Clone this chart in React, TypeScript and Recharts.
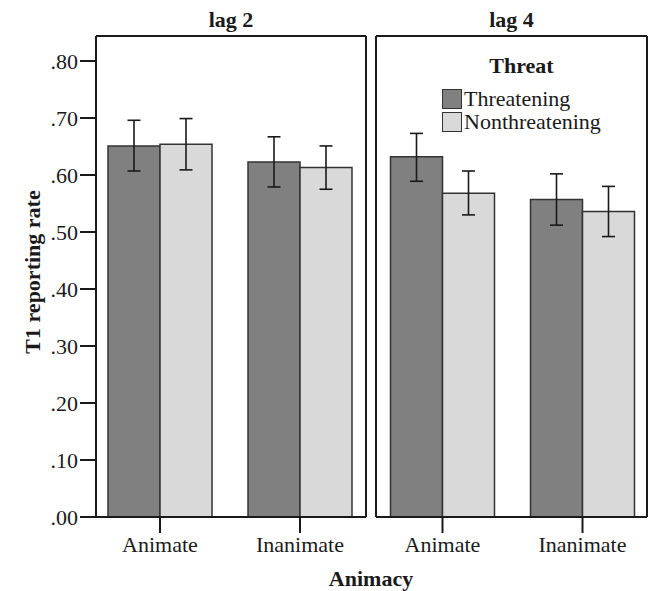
import React from 'react';
import { BarChart, Bar, XAxis, YAxis, ErrorBar, Legend } from 'recharts';

// ---- data ----
const categories = ['Animate', 'Inanimate'];
const panelTitles = ['lag 2', 'lag 4'];
const seriesNames = ['Threatening', 'Nonthreatening'];
const yTicks = [0, 0.1, 0.2, 0.3, 0.4, 0.5, 0.6, 0.7, 0.8];

const lag2Threatening = [0.651, 0.623];
const lag2ThreateningCI = [[0.607, 0.696], [0.579, 0.667]];
const lag2Nonthreatening = [0.654, 0.613];
const lag2NonthreateningCI = [[0.609, 0.699], [0.575, 0.651]];

const lag4Threatening = [0.632, 0.557];
const lag4ThreateningCI = [[0.589, 0.673], [0.512, 0.602]];
const lag4Nonthreatening = [0.568, 0.536];
const lag4NonthreateningCI = [[0.53, 0.607], [0.492, 0.58]];

function buildRows(t: number[], tCI: number[][], n: number[], nCI: number[][]) {
  return categories.map((c, i) => ({
    category: c,
    threat: t[i],
    threatErr: [t[i] - tCI[i][0], tCI[i][1] - t[i]],
    nonthreat: n[i],
    nonthreatErr: [n[i] - nCI[i][0], nCI[i][1] - n[i]],
  }));
}

const lag2Rows = buildRows(lag2Threatening, lag2ThreateningCI, lag2Nonthreatening, lag2NonthreateningCI);
const lag4Rows = buildRows(lag4Threatening, lag4ThreateningCI, lag4Nonthreatening, lag4NonthreateningCI);

// ---- style ----
const FONT = '"Liberation Serif", "Times New Roman", Times, serif';
const INK = '#1a1a1a';
const DARK = '#808080';
const LIGHT = '#d9d9d9';
const BAR_STROKE = '#333';
const axisLineStyle = { stroke: INK, strokeWidth: 2 };
const fmt = (v: number) => v.toFixed(2).replace(/^0/, '');

function LegendContent(props: any) {
  const payload = (props.payload || [])
    .filter((p: any) => seriesNames.indexOf(p.value) >= 0)
    .sort((a: any, b: any) => seriesNames.indexOf(a.value) - seriesNames.indexOf(b.value));
  return (
    <div style={{ fontFamily: FONT, color: INK, display: 'inline-block' }}>
      <div style={{ fontSize: 22, fontWeight: 'bold', lineHeight: '24px', textAlign: 'center', marginBottom: 9 }}>Threat</div>
      {payload.map((p: any) => (
        <div key={p.value} style={{ display: 'flex', alignItems: 'center', height: 23.5, fontSize: 22, lineHeight: '24px' }}>
          <span
            style={{
              display: 'inline-block',
              width: 20,
              height: 20,
              boxSizing: 'border-box',
              background: p.color,
              border: `1.5px solid ${BAR_STROKE}`,
              marginRight: 2,
            }}
          />
          <span>{p.value}</span>
        </div>
      ))}
    </div>
  );
}

type PanelProps = {
  data: any[];
  showY: boolean;
  left: number;
  width: number;
  marginRight: number;
  padLeft: number;
  padRight: number;
  legend: boolean;
};

function Panel({ data, showY, left, width, marginRight, padLeft, padRight, legend }: PanelProps) {
  return (
    <div style={{ position: 'absolute', left, top: 0 }}>
      <BarChart
        width={width}
        height={591}
        data={data}
        margin={{ top: 35, right: marginRight, bottom: 0, left: 0 }}
        barCategoryGap={18}
        barGap={0}
      >
        <XAxis
          dataKey="category"
          height={74}
          tickSize={16}
          tickMargin={3}
          interval={0}
          padding={{ left: padLeft, right: padRight }}
          axisLine={axisLineStyle}
          tickLine={axisLineStyle}
          tick={{ fill: INK, fontSize: 22, fontFamily: FONT }}
        />
        {/* frame: top edge */}
        <XAxis
          xAxisId="frame"
          dataKey="category"
          orientation="top"
          height={1}
          tick={false}
          tickLine={false}
          axisLine={axisLineStyle}
        />
        <YAxis
          domain={[0, 0.8]}
          ticks={yTicks}
          padding={{ top: 25, bottom: 0 }}
          width={showY ? 96 : 1}
          tickSize={16}
          tickMargin={2}
          tickFormatter={fmt}
          tick={showY ? { fill: INK, fontSize: 22, fontFamily: FONT } : false}
          tickLine={showY ? axisLineStyle : false}
          axisLine={axisLineStyle}
          interval={0}
        />
        {/* frame: right edge */}
        <YAxis
          yAxisId="frame"
          orientation="right"
          width={1}
          domain={[0, 0.8]}
          tick={false}
          tickLine={false}
          axisLine={axisLineStyle}
        />
        <Bar dataKey="threat" name={seriesNames[0]} fill={DARK} stroke={BAR_STROKE} strokeWidth={1.5} isAnimationActive={false}>
          <ErrorBar dataKey="threatErr" width={6.5} stroke={INK} strokeWidth={1.6} isAnimationActive={false} />
        </Bar>
        <Bar dataKey="nonthreat" name={seriesNames[1]} fill={LIGHT} stroke={BAR_STROKE} strokeWidth={1.5} isAnimationActive={false}>
          <ErrorBar dataKey="nonthreatErr" width={6.5} stroke={INK} strokeWidth={1.6} isAnimationActive={false} />
        </Bar>
        {/* invisible series that binds the frame axes so they are drawn */}
        <Bar
          dataKey="threat"
          name="frame"
          xAxisId="frame"
          yAxisId="frame"
          fill="transparent"
          stroke="none"
          legendType="none"
          isAnimationActive={false}
        />
        {legend && (
          <Legend
            layout="horizontal"
            verticalAlign="middle"
            align="center"
            content={<LegendContent />}
            wrapperStyle={{ top: 54, left: 67, width: 'auto', height: 'auto' }}
          />
        )}
      </BarChart>
    </div>
  );
}

export default function App() {
  return (
    <div style={{ position: 'absolute', left: 0, top: 0, width: 648, height: 591, background: '#fff', overflow: 'hidden' }}>
      <Panel data={lag2Rows} showY={true} left={0} width={370} marginRight={3} padLeft={-6} padRight={-4} legend={false} />
      <Panel data={lag4Rows} showY={false} left={375} width={273} marginRight={0} padLeft={-3.5} padRight={-5.5} legend={true} />
      <svg width={648} height={591} style={{ position: 'absolute', left: 0, top: 0, pointerEvents: 'none' }}>
        <g fontFamily={FONT} fill={INK} fontWeight="bold" fontSize={22}>
          <text x={231} y={27} textAnchor="middle">{panelTitles[0]}</text>
          <text x={511.5} y={27} textAnchor="middle">{panelTitles[1]}</text>
          <text x={371} y={586} textAnchor="middle">Animacy</text>
          <text x={40} y={272} textAnchor="middle" transform="rotate(-90 40 272)">T1 reporting rate</text>
        </g>
      </svg>
    </div>
  );
}
